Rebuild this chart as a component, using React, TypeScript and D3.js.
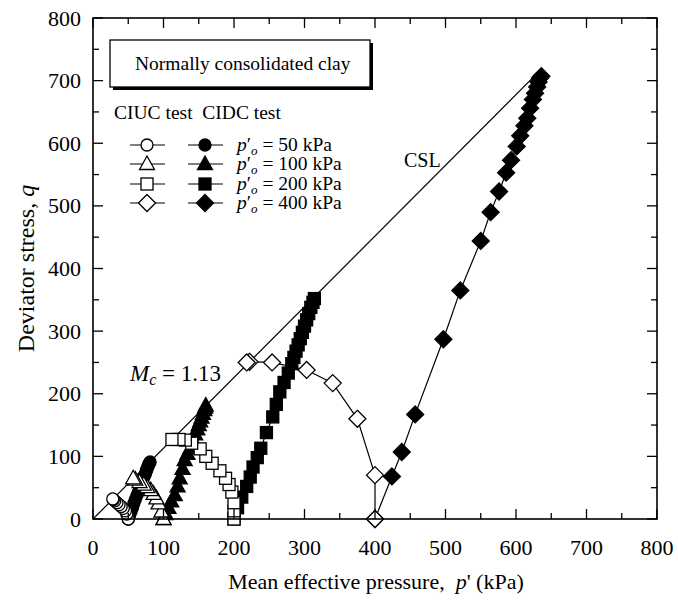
import React from "react";
import * as d3 from "d3";

type Pt = [number, number];

const ciuc50: Pt[] = [[50, 0], [48, 8], [46, 13], [43, 17], [40, 20], [37, 23], [34, 26], [31, 29], [29, 31], [28, 32]];
const cidc50: Pt[] = [[50, 0], [52, 6], [54, 12], [56, 18], [58, 25], [60, 31], [62, 37], [64, 42], [66, 48], [68, 54], [70, 60], [72, 66], [74, 71], [75, 75], [76, 78], [77, 81], [78, 84], [79, 87], [80, 89], [81, 91]];
const ciuc100: Pt[] = [[100, 0], [97, 12], [93, 25], [90, 33], [86, 40], [82, 46], [77, 51], [72, 55], [66, 59], [60, 63], [57, 65]];
const cidc100: Pt[] = [[100, 0], [103, 8], [107, 18], [111, 28], [116, 38], [120, 52], [123, 65], [127, 80], [130, 94], [134, 104], [138, 113], [142, 125], [145, 135], [148, 143], [150, 150], [152, 156], [154, 162], [156, 168], [158, 174], [159, 178], [160, 181]];
const ciuc200: Pt[] = [[200, 0], [200, 13], [200, 26], [197, 43], [193, 55], [188, 65], [180, 77], [169, 89], [160, 100], [152, 112], [140, 121], [131, 126], [122, 127], [112, 127]];
const cidc200: Pt[] = [[200, 0], [205, 18], [211, 35], [218, 52], [223, 67], [227, 83], [233, 98], [238, 113], [246, 138], [255, 163], [260, 183], [265, 203], [271, 218], [277, 233], [282, 248], [285, 258], [288, 268], [291, 278], [294, 288], [297, 298], [300, 308], [303, 318], [306, 328], [309, 338], [312, 346], [314, 352]];
const ciuc400: Pt[] = [[400, 0], [400, 70], [375, 160], [340, 217], [303, 238], [254, 250], [222, 251], [218, 250]];
const cidc400: Pt[] = [[400, 0], [424, 68], [438, 107], [457, 167], [497, 287], [521, 365], [550, 444], [564, 490], [576, 523], [586, 553], [593, 573], [601, 595], [606, 612], [612, 628], [616, 640], [620, 656], [624, 670], [627, 680], [630, 690], [632, 698], [634, 704], [636, 707]];

const cslLine: Pt[] = [[0, 0], [625, 706]];
const xTicks = [0, 100, 200, 300, 400, 500, 600, 700, 800];
const yTicks = [0, 100, 200, 300, 400, 500, 600, 700, 800];
const legendLabels = ["50", "100", "200", "400"];
const shapes = ["circle", "triangle", "square", "diamond"];

const FONT = "Liberation Serif, Times New Roman, Times, DejaVu Serif, serif";

const x = d3.scaleLinear().domain([0, 800]).range([93, 657]);
const y = d3.scaleLinear().domain([0, 800]).range([519, 18]);

function Marker({ shape, cx, cy, filled }: { shape: string; cx: number; cy: number; filled: boolean }) {
  const fill = filled ? "#000" : "#fff";
  const common = { fill, stroke: "#000", strokeWidth: 1.3 };
  if (shape === "circle") return <circle cx={cx} cy={cy} r={6} {...common} />;
  if (shape === "square") return <rect x={cx - 6} y={cy - 6} width={12} height={12} {...common} />;
  if (shape === "triangle")
    return <path d={`M${cx},${cy - 8}L${cx + 7.5},${cy + 5.5}L${cx - 7.5},${cy + 5.5}Z`} {...common} />;
  return <path d={`M${cx},${cy - 8.5}L${cx + 8.5},${cy}L${cx},${cy + 8.5}L${cx - 8.5},${cy}Z`} {...common} />;
}

const line = d3.line<Pt>().x((d) => x(d[0])).y((d) => y(d[1]));

function Series({ data, shape, filled }: { data: Pt[]; shape: string; filled: boolean }) {
  return (
    <g>
      <path d={line(data) || ""} fill="none" stroke="#000" strokeWidth={1.2} />
      {data.map((d, i) => (
        <Marker key={i} shape={shape} cx={x(d[0])} cy={y(d[1])} filled={filled} />
      ))}
    </g>
  );
}

const T = { fontFamily: FONT };

export default function App() {
  const minor = d3.range(0, 801, 50);
  const openSeries = [ciuc50, ciuc100, ciuc200, ciuc400];
  const filledSeries = [cidc50, cidc100, cidc200, cidc400];
  const legendY = [145, 164, 184, 203];
  return (
    <svg width={678} height={600} style={{ position: "absolute", left: 0, top: 0, background: "#fff", fontFamily: FONT }}>
      <rect x={0} y={0} width={678} height={600} fill="#fff" />
      <path d={line(cslLine) || ""} stroke="#000" strokeWidth={1.2} fill="none" />
      {filledSeries.map((s, i) => (
        <Series key={"f" + i} data={s} shape={shapes[i]} filled={true} />
      ))}
      {openSeries.map((s, i) => (
        <Series key={"o" + i} data={s} shape={shapes[i]} filled={false} />
      ))}
      <rect x={x(0)} y={y(800)} width={x(800) - x(0)} height={y(0) - y(800)} fill="none" stroke="#000" strokeWidth={1.6} />
      {minor.map((v) => {
        const len = v % 100 === 0 ? 10 : 6;
        return (
          <g key={"t" + v} stroke="#000" strokeWidth={1.3}>
            <line x1={x(v)} x2={x(v)} y1={y(0)} y2={y(0) - len} />
            <line x1={x(v)} x2={x(v)} y1={y(800)} y2={y(800) + len} />
            <line x1={x(0)} x2={x(0) + len} y1={y(v)} y2={y(v)} />
            <line x1={x(800)} x2={x(800) - len} y1={y(v)} y2={y(v)} />
          </g>
        );
      })}
      {xTicks.map((v) => (
        <text key={"xl" + v} x={x(v)} y={555} fontSize={22} textAnchor="middle" style={T}>
          {v}
        </text>
      ))}
      {yTicks.map((v) => (
        <text key={"yl" + v} x={81} y={y(v) + 7.5} fontSize={22} textAnchor="end" style={T}>
          {v}
        </text>
      ))}
      <text x={376} y={589} fontSize={22} textAnchor="middle" style={T}>
        Mean effective pressure,{"\u00a0\u00a0"}
        <tspan fontStyle="italic">p</tspan>' (kPa)
      </text>
      <text transform={`translate(34,${y(400)}) rotate(-90)`} fontSize={24} textAnchor="middle" style={T}>
        Deviator stress, <tspan fontStyle="italic">q</tspan>
      </text>
      <rect x={113} y={43} width={260} height={47} fill="#000" />
      <rect x={110} y={40} width={260} height={47} fill="#fff" stroke="#000" strokeWidth={1.3} />
      <text x={135} y={70} fontSize={19.5} style={T}>
        Normally consolidated clay
      </text>
      <text x={114} y={119} fontSize={19.5} style={T}>
        CIUC test{"\u00a0\u00a0"}CIDC test
      </text>
      {legendLabels.map((lab, i) => (
        <g key={"lg" + i}>
          <line x1={130} x2={165} y1={legendY[i]} y2={legendY[i]} stroke="#000" strokeWidth={1.2} />
          <Marker shape={shapes[i]} cx={147} cy={legendY[i]} filled={false} />
          <line x1={188} x2={223} y1={legendY[i]} y2={legendY[i]} stroke="#000" strokeWidth={1.2} />
          <Marker shape={shapes[i]} cx={205} cy={legendY[i]} filled={true} />
          <text x={237} y={legendY[i] + 5.5} fontSize={19.5} style={T}>
            <tspan fontStyle="italic">p</tspan>
            <tspan>′</tspan>
            <tspan fontStyle="italic" fontSize={13} dy={4}>o</tspan>
            <tspan dy={-4}> = {lab} kPa</tspan>
          </text>
        </g>
      ))}
      <text x={404} y={167} fontSize={20} style={T}>CSL</text>
      <text x={130} y={381} fontSize={23} style={T}>
        <tspan fontStyle="italic">M</tspan>
        <tspan fontStyle="italic" fontSize={16} dy={4}>c</tspan>
        <tspan dy={-4}> = 1.13</tspan>
      </text>
    </svg>
  );
}
